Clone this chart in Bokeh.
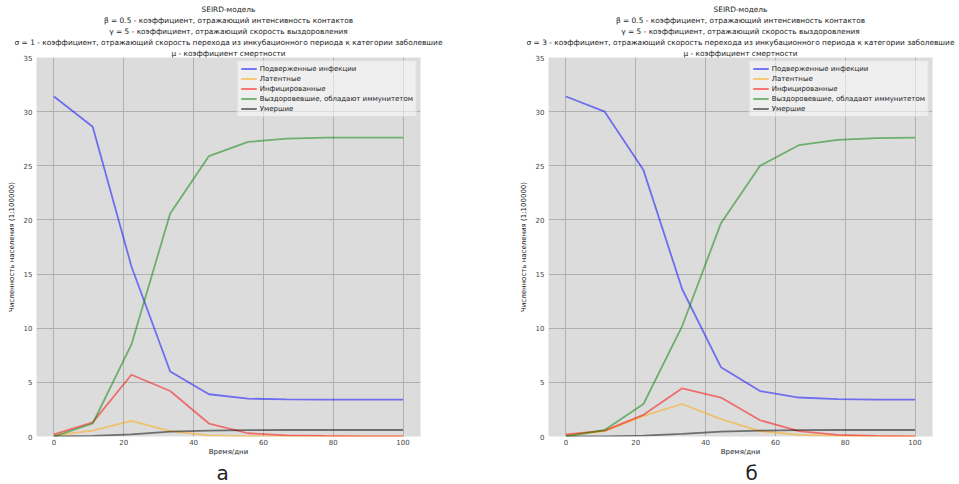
from bokeh.plotting import figure
from bokeh.layouts import row
from bokeh.models import Legend, LegendItem, Title, FixedTicker, Range1d
from bokeh.embed import file_html
from bokeh.resources import INLINE

t = [0, 11.1, 22.2, 33.3, 44.4, 55.6, 66.7, 77.8, 88.9, 100]

# panel a (sigma = 1)
s_a = [31.4, 28.6, 15.7, 6.0, 3.9, 3.5, 3.42, 3.4, 3.4, 3.4]
e_a = [0.1, 0.55, 1.45, 0.5, 0.1, 0.03, 0.01, 0.0, 0.0, 0.0]
i_a = [0.2, 1.3, 5.7, 4.2, 1.2, 0.3, 0.1, 0.05, 0.02, 0.01]
r_a = [0.0, 1.2, 8.5, 20.6, 25.9, 27.2, 27.5, 27.6, 27.6, 27.6]
d_a = [0.0, 0.05, 0.2, 0.45, 0.55, 0.58, 0.6, 0.6, 0.6, 0.6]

# panel b (sigma = 3)
s_b = [31.4, 30.0, 24.6, 13.6, 6.4, 4.2, 3.6, 3.45, 3.4, 3.4]
e_b = [0.1, 0.5, 1.9, 3.0, 1.6, 0.5, 0.15, 0.05, 0.01, 0.0]
i_b = [0.2, 0.55, 2.0, 4.45, 3.6, 1.5, 0.5, 0.15, 0.05, 0.02]
r_b = [0.0, 0.6, 3.0, 10.2, 19.7, 25.0, 26.9, 27.4, 27.55, 27.6]
d_b = [0.0, 0.02, 0.08, 0.25, 0.45, 0.55, 0.58, 0.6, 0.6, 0.6]

names = ["Подверженные инфекции", "Латентные", "Инфицированные",
         "Выздоровевшие, обладают иммунитетом", "Умершие"]
colors = ["blue", "orange", "red", "green", "black"]

x_ticks = [0, 20, 40, 60, 80, 100]
y_ticks = [0, 5, 10, 15, 20, 25, 30, 35]

FONT = "DejaVu Sans"


def title_lines(sigma):
    return ["SEIRD-модель",
            "β = 0.5 - коэффициент, отражающий интенсивность контактов",
            "γ = 5 - коэффициент, отражающий скорость выздоровления",
            f"σ = {sigma} - коэффициент, отражающий скорость перехода из инкубационного периода к категории заболевшие",
            "μ - коэффициент смертности"]


def make_fig(series, sigma, caption, width, bl, br, cap_offset):
    p = figure(width=width, height=484, output_backend="svg", toolbar_location=None,
               title=None,
               x_range=Range1d(-5, 105), y_range=Range1d(0, 35),
               min_border_left=bl, min_border_right=br, min_border_top=57,
               min_border_bottom=45)
    lines = title_lines(sigma)
    for i, txt in enumerate(reversed(lines)):
        p.add_layout(Title(text=txt, align="center", text_font=FONT,
                           text_font_size="7.4px", text_font_style="normal",
                           text_color="#222222", standoff=0,
                           text_line_height=0.8), "above")
    p.add_layout(Title(text=caption, align="left", offset=cap_offset,
                       text_font=FONT, text_font_size="20px",
                       text_font_style="normal", text_color="#222222",
                       standoff=0, text_line_height=0.7), "below")
    p.background_fill_color = "#dcdcdc"
    p.border_fill_color = "white"
    p.outline_line_color = None
    p.xaxis.ticker = FixedTicker(ticks=x_ticks)
    p.yaxis.ticker = FixedTicker(ticks=y_ticks)
    for ax in (p.xaxis, p.yaxis):
        ax.axis_line_color = None
        ax.major_tick_line_color = None
        ax.minor_tick_line_color = None
        ax.major_tick_out = 0
        ax.major_tick_in = 0
        ax.major_label_text_font = FONT
        ax.major_label_text_font_size = "7px"
        ax.major_label_text_color = "#444444"
        ax.axis_label_text_font = FONT
        ax.axis_label_text_font_size = "7px"
        ax.axis_label_text_font_style = "normal"
        ax.axis_label_text_color = "#222222"
        ax.major_label_standoff = 4
        ax.axis_label_standoff = 2
    p.xaxis.major_label_standoff = 2
    p.xaxis.axis_label_standoff = 0
    p.yaxis.axis_label_standoff = 5
    p.xaxis.axis_label = "Время/дни"
    p.yaxis.axis_label = "Численность населения (1:100000)"
    p.grid.grid_line_color = "#b0b0b0"
    p.grid.grid_line_width = 1
    items = []
    for name, col, ys in zip(names, colors, series):
        r = p.line(t, ys, line_color=col, line_alpha=0.5, line_width=1.8)
        items.append(LegendItem(label=name, renderers=[r]))
    leg = Legend(items=items, location="top_right", label_text_font=FONT,
                 label_text_font_size="7px", label_height=9, glyph_height=9,
                 glyph_width=16, spacing=1, padding=3, margin=3,
                 background_fill_color="white", background_fill_alpha=0.55,
                 border_line_color="#cccccc", label_text_color="#222222",
                 label_standoff=3)
    p.add_layout(leg)
    return p


pa = make_fig([s_a, e_a, i_a, r_a, d_a], 1, "а", 479, 36, 59, 180)
pb = make_fig([s_b, e_b, i_b, r_b, d_b], 3, "б", 480, 69, 27, 197)

layout = row(pa, pb)
open("out.html", "w").write(file_html(layout, INLINE))
